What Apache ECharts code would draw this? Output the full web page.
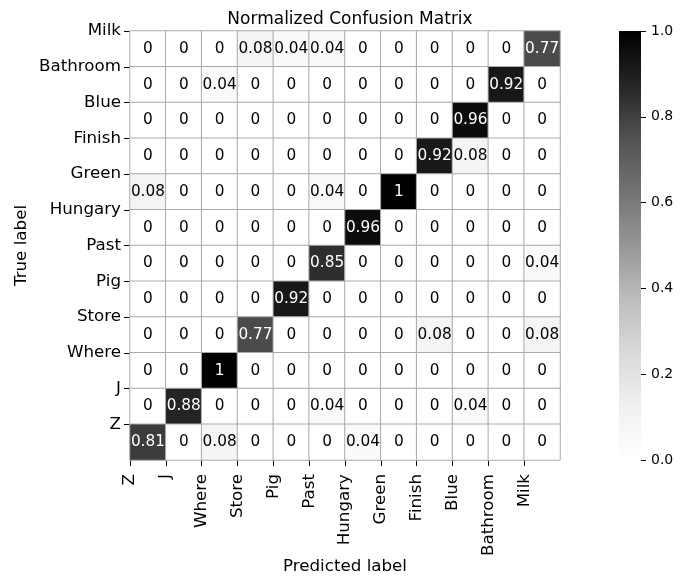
<!DOCTYPE html>
<html>
<head>
<meta charset="utf-8">
<script src="https://cdn.jsdelivr.net/npm/echarts@6/dist/echarts.min.js"></script>
<style>
  html, body { margin: 0; padding: 0; background: #fff; }
  #chart { width: 689px; height: 580px; }
</style>
</head>
<body>
<div id="chart"></div>
<script>
// Class names along each axis
var trueLabels = ['Milk', 'Bathroom', 'Blue', 'Finish', 'Green', 'Hungary', 'Past', 'Pig', 'Store', 'Where', 'J', 'Z'];
var predictedLabels = ['Z', 'J', 'Where', 'Store', 'Pig', 'Past', 'Hungary', 'Green', 'Finish', 'Blue', 'Bathroom', 'Milk'];

// Normalized confusion matrix, one row per true label (top to bottom)
var rowMilk     = [0, 0, 0, 0.08, 0.04, 0.04, 0, 0, 0, 0, 0, 0.77];
var rowBathroom = [0, 0, 0.04, 0, 0, 0, 0, 0, 0, 0, 0.92, 0];
var rowBlue     = [0, 0, 0, 0, 0, 0, 0, 0, 0, 0.96, 0, 0];
var rowFinish   = [0, 0, 0, 0, 0, 0, 0, 0, 0.92, 0.08, 0, 0];
var rowGreen    = [0.08, 0, 0, 0, 0, 0.04, 0, 1, 0, 0, 0, 0];
var rowHungary  = [0, 0, 0, 0, 0, 0, 0.96, 0, 0, 0, 0, 0];
var rowPast     = [0, 0, 0, 0, 0, 0.85, 0, 0, 0, 0, 0, 0.04];
var rowPig      = [0, 0, 0, 0, 0.92, 0, 0, 0, 0, 0, 0, 0];
var rowStore    = [0, 0, 0, 0.77, 0, 0, 0, 0, 0.08, 0, 0, 0.08];
var rowWhere    = [0, 0, 1, 0, 0, 0, 0, 0, 0, 0, 0, 0];
var rowJ        = [0, 0.88, 0, 0, 0, 0.04, 0, 0, 0, 0.04, 0, 0];
var rowZ        = [0.81, 0, 0.08, 0, 0, 0, 0.04, 0, 0, 0, 0, 0];

// Colour bar tick values
var colorbarTicks = [0, 0.2, 0.4, 0.6, 0.8, 1.0];

var matrix = [rowMilk, rowBathroom, rowBlue, rowFinish, rowGreen, rowHungary,
              rowPast, rowPig, rowStore, rowWhere, rowJ, rowZ];

var FONT = 'DejaVu Sans';
// "Greys" colour ramp, low to high
var greys = ['#ffffff', '#f0f0f0', '#d9d9d9', '#bdbdbd', '#969696',
             '#737373', '#525252', '#252525', '#000000'];

var cells = [];
matrix.forEach(function (row, r) {
  row.forEach(function (v, c) {
    cells.push({
      value: [c, r, v],
      label: { color: v > 0.5 ? '#ffffff' : '#000000' }
    });
  });
});

var boundaryIdx = trueLabels.map(function (_, i) { return i; });

// Colour bar geometry
var CB_LEFT = 619, CB_TOP = 31, CB_W = 22, CB_H = 429;

// Gradient for the colour bar (top = max)
var cbStops = greys.map(function (col, i) {
  return { offset: 1 - i / (greys.length - 1), color: col };
});

var chart = echarts.init(document.getElementById('chart'), null, { renderer: 'canvas' });

chart.setOption({
  animation: false,
  backgroundColor: '#ffffff',
  textStyle: { fontFamily: FONT },
  title: {
    text: 'Normalized Confusion Matrix',
    left: 345,
    textAlign: 'center',
    top: 6,
    textStyle: { fontFamily: FONT, fontSize: 17, fontWeight: 'normal', color: '#000' }
  },
  grid: [
    { left: 130, top: 31, width: 430, height: 429, containLabel: false, outerBoundsMode: 'none' },
    { left: CB_LEFT, top: CB_TOP, width: CB_W, height: CB_H, containLabel: false, outerBoundsMode: 'none' }
  ],
  xAxis: [
    { type: 'category', gridIndex: 0, data: predictedLabels, show: false },
    {
      type: 'value', gridIndex: 0, min: 0, max: 12, interval: 1, position: 'bottom',
      axisLine: { show: false, onZero: false },
      splitLine: { show: false },
      axisTick: { show: true, length: 6, customValues: boundaryIdx, lineStyle: { color: '#000', width: 1 } },
      axisLabel: {
        rotate: 90, margin: 14, customValues: boundaryIdx,
        fontFamily: FONT, fontSize: 16.7, color: '#000',
        formatter: function (v) { return predictedLabels[v] || ''; }
      },
      name: 'Predicted label', nameLocation: 'middle', nameGap: 98, nameMoveOverlap: false,
      nameTextStyle: { fontFamily: FONT, fontSize: 16.7, color: '#000' }
    },
    { type: 'value', gridIndex: 1, min: 0, max: 1, show: false, axisLine: { onZero: false } }
  ],
  yAxis: [
    { type: 'category', gridIndex: 0, data: trueLabels, inverse: true, show: false },
    {
      type: 'value', gridIndex: 0, min: 0, max: 12, interval: 1, inverse: true, position: 'left',
      axisLine: { show: false, onZero: false },
      splitLine: { show: false },
      axisTick: { show: true, length: 6, customValues: boundaryIdx, lineStyle: { color: '#000', width: 1 } },
      axisLabel: {
        margin: 9, customValues: boundaryIdx,
        fontFamily: FONT, fontSize: 16.7, color: '#000',
        formatter: function (v) { return trueLabels[v] || ''; }
      },
      name: 'True label', nameLocation: 'middle', nameGap: 100, nameRotate: 90, nameMoveOverlap: false,
      nameTextStyle: { fontFamily: FONT, fontSize: 16.7, color: '#000' }
    },
    {
      type: 'value', gridIndex: 1, min: 0, max: 1, interval: 0.2, position: 'right',
      axisLine: { show: false, onZero: false },
      splitLine: { show: false },
      axisTick: { show: true, length: 5, customValues: colorbarTicks, lineStyle: { color: '#000', width: 1 } },
      axisLabel: {
        margin: 10, customValues: colorbarTicks,
        fontFamily: FONT, fontSize: 14, color: '#000',
        formatter: function (v) { return v.toFixed(1); }
      }
    }
  ],
  visualMap: {
    show: false,
    type: 'continuous',
    min: 0, max: 1,
    seriesIndex: 0,
    inRange: { color: greys }
  },
  graphic: [{
    type: 'rect',
    silent: true,
    shape: { x: CB_LEFT, y: CB_TOP, width: CB_W, height: CB_H },
    style: { fill: new echarts.graphic.LinearGradient(0, 0, 0, 1, cbStops) },
    z: 0
  }],
  series: [{
    type: 'heatmap',
    xAxisIndex: 0,
    yAxisIndex: 0,
    data: cells,
    itemStyle: { borderColor: '#aaaaaa', borderWidth: 1 },
    label: {
      show: true,
      fontFamily: FONT,
      fontSize: 15.3,
      formatter: function (p) { return String(p.value[2]); }
    },
    emphasis: { disabled: true }
  }]
});
</script>
</body>
</html>
